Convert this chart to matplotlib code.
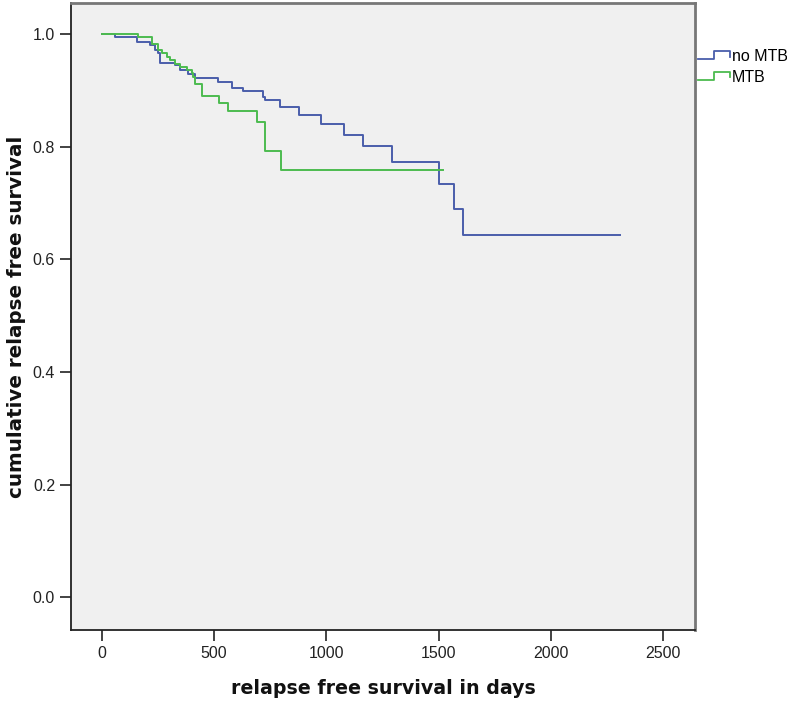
import numpy as np
import matplotlib.pyplot as plt
from matplotlib.legend_handler import HandlerBase
from matplotlib.lines import Line2D

# Kaplan-Meier step values (days, survival)
no_mtb_t = [0, 59, 156, 215, 237, 252, 260, 326, 349, 386, 415, 519, 581, 628, 717, 727,
            794, 880, 976, 1080, 1165, 1294, 1502, 1569, 1609, 2305]
no_mtb_s = [1.0, 0.995, 0.986, 0.980, 0.972, 0.966, 0.949, 0.945, 0.936, 0.929, 0.921, 0.914,
            0.905, 0.899, 0.889, 0.882, 0.870, 0.856, 0.840, 0.821, 0.801, 0.772, 0.733,
            0.689, 0.643, 0.643]

mtb_t = [0, 163, 222, 252, 267, 289, 304, 326, 349, 378, 401, 408, 415, 445, 524, 564,
         693, 727, 797, 1521]
mtb_s = [1.0, 0.995, 0.983, 0.972, 0.966, 0.960, 0.953, 0.947, 0.942, 0.936, 0.930, 0.923,
         0.911, 0.890, 0.878, 0.863, 0.843, 0.793, 0.759, 0.759]

labels = ['no MTB', 'MTB']
colors = ['#4a5eab', '#4cbb4f']

xticks = [0, 500, 1000, 1500, 2000, 2500]
yticks = [0.0, 0.2, 0.4, 0.6, 0.8, 1.0]


class StepHandler(HandlerBase):
    def create_artists(self, legend, orig, xd, yd, w, h, fontsize, trans):
        c = orig.get_color()
        xs = [xd, xd + w * 0.5, xd + w * 0.5, xd + w, xd + w]
        ys = [yd + h * 0.15, yd + h * 0.15, yd + h * 0.85, yd + h * 0.85, yd + h * 0.4]
        ln = Line2D(xs, ys, color=c, lw=1.3, transform=trans)
        return [ln]


fig = plt.figure(figsize=(7.87, 7.02), dpi=100)
ax = fig.add_axes([71 / 787, 1 - 630 / 702, (695 - 71) / 787, (630 - 3) / 702])
ax.set_facecolor('#f0f0f0')

lines = []
for t, s, c, lab in zip([no_mtb_t, mtb_t], [no_mtb_s, mtb_s], colors, labels):
    l, = ax.step(t, s, where='post', color=c, lw=1.4, label=lab)
    lines.append(l)

ax.set_xlim(-137, 2641)
ax.set_ylim(-0.058, 1.055)
ax.set_xticks(xticks)
ax.set_xticklabels([str(v) for v in xticks])
ax.set_yticks(yticks)
ax.set_yticklabels(['%.1f' % v for v in yticks])
ax.tick_params(length=8, width=1.2, color='#222222', labelsize=11.5,
               labelcolor='#222222')
for lab in ax.get_xticklabels() + ax.get_yticklabels():
    lab.set_family('Liberation Sans')

for side in ['left', 'bottom']:
    ax.spines[side].set_color('#222222')
    ax.spines[side].set_linewidth(1.3)
for side in ['top', 'right']:
    ax.spines[side].set_color('#777777')
    ax.spines[side].set_linewidth(2.0)

ax.set_xlabel('relapse free survival in days', fontsize=13.7, fontweight='bold',
              color='#111111', va='center')
ax.xaxis.set_label_coords(0.5, -(688 - 630) / 627)
ax.set_ylabel('cumulative relapse free survival', fontsize=14.3, fontweight='bold',
              color='#111111', va='center')
ax.yaxis.set_label_coords((17 - 71) / 624, 0.5)

leg = fig.legend(lines, labels, handler_map={Line2D: StepHandler()},
                 loc='upper left', bbox_to_anchor=(698 / 787, 1 - 49 / 702),
                 frameon=False, handlelength=2.0, handletextpad=0.1,
                 labelspacing=0.35, borderpad=0.0, borderaxespad=0.0,
                 prop={'family': 'Liberation Sans', 'size': 11.5})

fig.savefig('out.png', dpi=100)
